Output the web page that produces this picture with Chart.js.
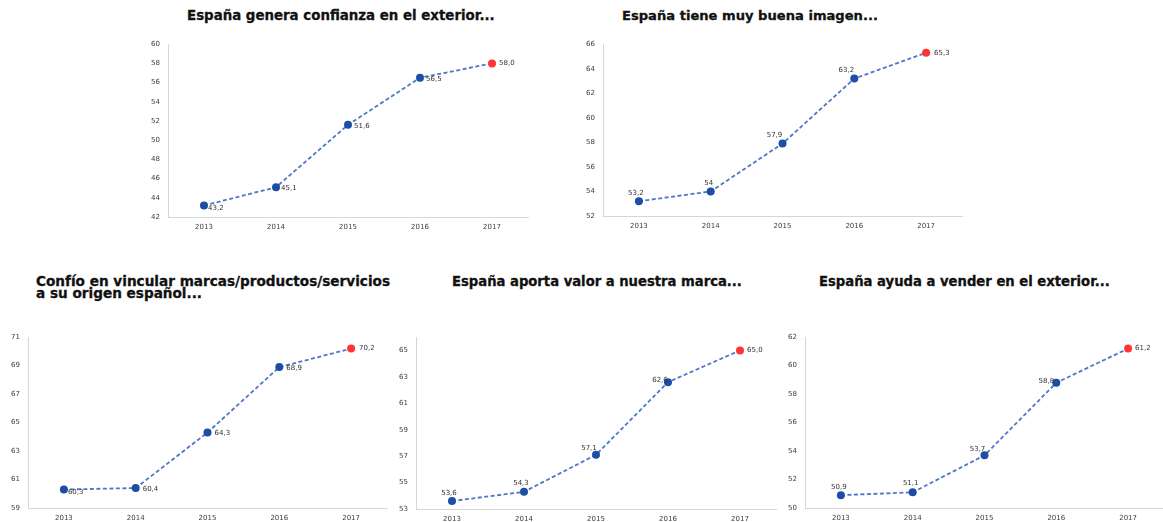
<!DOCTYPE html>
<html>
<head>
<meta charset="utf-8">
<script src="https://cdn.jsdelivr.net/npm/chart.js@4.4.1/dist/chart.umd.min.js"></script>
<style>
  html, body { margin: 0; padding: 0; background: #fff; }
  #page { position: relative; width: 1163px; height: 522px; overflow: hidden; background: #fff; }
  .title {
    position: absolute;
    font-family: "DejaVu Sans", Verdana, sans-serif;
    font-weight: bold;
    color: #111;
    -webkit-text-stroke: 0.3px #111;
    white-space: nowrap;
    line-height: 1;
  }
  .panel { position: absolute; }
</style>
</head>
<body>
<div id="page"></div>
<script>
// ---- Data ----
const years = ['2013', '2014', '2015', '2016', '2017'];

const confianzaValues = [43.2, 45.1, 51.6, 56.5, 58.0];
const imagenValues    = [53.2, 54, 57.9, 63.2, 65.3];
const origenValues    = [60.3, 60.4, 64.3, 68.9, 70.2];
const valorValues     = [53.6, 54.3, 57.1, 62.6, 65.0];
const venderValues    = [50.9, 51.1, 53.7, 58.8, 61.2];

// decimals shown in each point label
const confianzaDecimals = [1, 1, 1, 1, 1];
const imagenDecimals    = [1, 0, 1, 1, 1];
const origenDecimals    = [1, 1, 1, 1, 1];
const valorDecimals     = [1, 1, 1, 1, 1];
const venderDecimals    = [1, 1, 1, 1, 1];

const confianzaTicks = [42, 44, 46, 48, 50, 52, 54, 56, 58, 60];
const imagenTicks    = [52, 54, 56, 58, 60, 62, 64, 66];
const origenTicks    = [59, 61, 63, 65, 67, 69, 71];
const valorTicks     = [53, 55, 57, 59, 61, 63, 65];
const venderTicks    = [50, 52, 54, 56, 58, 60, 62];

const confianzaTitle = ['España genera confianza en el exterior...'];
const imagenTitle    = ['España tiene muy buena imagen...'];
const origenTitle    = ['Confío en vincular marcas/productos/servicios', 'a su origen español...'];
const valorTitle     = ['España aporta valor a nuestra marca...'];
const venderTitle    = ['España ayuda a vender en el exterior...'];

// ---- Styling ----
const FONT = '"DejaVu Sans", Verdana, sans-serif';
const LINE_COLOR = '#4f76c8';
const POINT_BLUE = '#1d4ea6';
const POINT_RED = '#ff3535';
const AXIS_COLOR = '#d6d6d6';
const TICK_COLOR = '#3c3c3c';
const LABEL_COLOR = '#333333';

const panels = [
  {
    title: confianzaTitle, titleBox: { x: 187, y: 16, w: 308 },
    values: confianzaValues, decimals: confianzaDecimals, ticks: confianzaTicks, max: 60,
    plot: { l: 168, r: 532, t: 38, b: 217 },
    labelPos: [[4, 3, 'left'], [5, 1, 'left'], [6, 1, 'left'], [6, 1, 'left'], [7, 0, 'left']]
  },
  {
    title: imagenTitle, titleBox: { x: 622, y: 16, w: 256 },
    values: imagenValues, decimals: imagenDecimals, ticks: imagenTicks, max: 66,
    plot: { l: 603, r: 966, t: 38, b: 216 },
    labelPos: [[-3, -8, 'center'], [-2, -8, 'center'], [-8, -8, 'center'], [-8, -8, 'center'], [8, 0, 'left']]
  },
  {
    title: origenTitle, titleBox: { x: 36, y: 282, w: 354, lh: 11.6 },
    values: origenValues, decimals: origenDecimals, ticks: origenTicks, max: 71,
    plot: { l: 28, r: 391, t: 331, b: 508 },
    labelPos: [[4, 3, 'left'], [7, 1, 'left'], [7, 1, 'left'], [7, 1, 'left'], [8, 0, 'left']]
  },
  {
    title: valorTitle, titleBox: { x: 452, y: 282, w: 290 },
    values: valorValues, decimals: valorDecimals, ticks: valorTicks, max: 66,
    plot: { l: 416, r: 780, t: 331, b: 509 },
    labelPos: [[-3, -8, 'center'], [-3, -9, 'center'], [-7, -7, 'center'], [-8, -2, 'center'], [7, 0, 'left']]
  },
  {
    title: venderTitle, titleBox: { x: 819, y: 282, w: 291 },
    values: venderValues, decimals: venderDecimals, ticks: venderTicks, max: 62,
    plot: { l: 805, r: 1168, t: 331, b: 508 },
    labelPos: [[-2, -8, 'center'], [-2, -9, 'center'], [-7, -6, 'center'], [-10, -2, 'center'], [7, 0, 'left']]
  }
];

const page = document.getElementById('page');
const measureCtx = document.createElement('canvas').getContext('2d');

function fmt(v, d) {
  return v.toFixed(d).replace('.', ',');
}

// Title text sized so its first line spans the given width
function addTitle(p) {
  const base = 13;
  measureCtx.font = 'bold ' + base + 'px ' + FONT;
  const w = measureCtx.measureText(p.title[0]).width;
  const size = base * p.titleBox.w / w;
  const lh = p.titleBox.lh || size;
  const el = document.createElement('div');
  el.className = 'title';
  el.style.fontSize = size.toFixed(2) + 'px';
  el.style.lineHeight = lh + 'px';
  el.style.left = p.titleBox.x + 'px';
  el.style.top = (p.titleBox.y - lh / 2) + 'px';
  p.title.forEach((line, i) => {
    if (i) el.appendChild(document.createElement('br'));
    el.appendChild(document.createTextNode(line));
  });
  page.appendChild(el);
}

function addChart(p) {
  const YW = 34, XH = 20, PT = 6;
  const left = p.plot.l - YW;
  const top = p.plot.t - PT;
  const width = p.plot.r - left;
  const height = p.plot.b - top + XH;

  const holder = document.createElement('div');
  holder.className = 'panel';
  holder.style.left = left + 'px';
  holder.style.top = top + 'px';
  holder.style.width = width + 'px';
  holder.style.height = height + 'px';
  const canvas = document.createElement('canvas');
  holder.appendChild(canvas);
  page.appendChild(holder);

  const last = p.values.length - 1;
  const pointColors = p.values.map((v, i) => (i === last ? POINT_RED : POINT_BLUE));

  // value labels next to each point
  const valueLabels = {
    id: 'valueLabels',
    afterDatasetsDraw(chart) {
      const ctx = chart.ctx;
      const meta = chart.getDatasetMeta(0);
      ctx.save();
      ctx.font = '7px ' + FONT;
      ctx.fillStyle = LABEL_COLOR;
      ctx.textBaseline = 'middle';
      meta.data.forEach((pt, i) => {
        const [dx, dy, align] = p.labelPos[i];
        ctx.textAlign = align;
        ctx.fillText(fmt(p.values[i], p.decimals[i]), pt.x + dx, pt.y + dy);
      });
      ctx.restore();
    }
  };

  new Chart(canvas, {
    type: 'line',
    data: {
      labels: years,
      datasets: [{
        data: p.values,
        borderColor: LINE_COLOR,
        borderWidth: 1.8,
        borderDash: [4, 2.5],
        tension: 0,
        fill: false,
        clip: false,
        pointRadius: 4,
        pointBackgroundColor: pointColors,
        pointBorderColor: pointColors,
        pointBorderWidth: 0
      }]
    },
    options: {
      responsive: true,
      maintainAspectRatio: false,
      animation: false,
      events: [],
      layout: { padding: { top: PT, left: 0, right: 0, bottom: 0 } },
      plugins: {
        legend: { display: false },
        tooltip: { enabled: false },
        title: { display: false }
      },
      scales: {
        x: {
          type: 'category',
          offset: true,
          grid: { display: false, drawTicks: false },
          border: { display: true, color: AXIS_COLOR, width: 1 },
          ticks: { color: TICK_COLOR, font: { family: FONT, size: 7 }, padding: 6, maxRotation: 0, autoSkip: false },
          afterFit(s) { s.height = XH; }
        },
        y: {
          type: 'linear',
          min: p.ticks[0],
          max: p.max,
          grid: { display: false, drawTicks: false },
          border: { display: true, color: AXIS_COLOR, width: 1 },
          ticks: { color: TICK_COLOR, font: { family: FONT, size: 7 }, padding: 8 },
          afterBuildTicks(s) { s.ticks = p.ticks.map(v => ({ value: v })); },
          afterFit(s) { s.width = YW; }
        }
      }
    },
    plugins: [valueLabels]
  });
}

panels.forEach(p => { addTitle(p); addChart(p); });
</script>
</body>
</html>
